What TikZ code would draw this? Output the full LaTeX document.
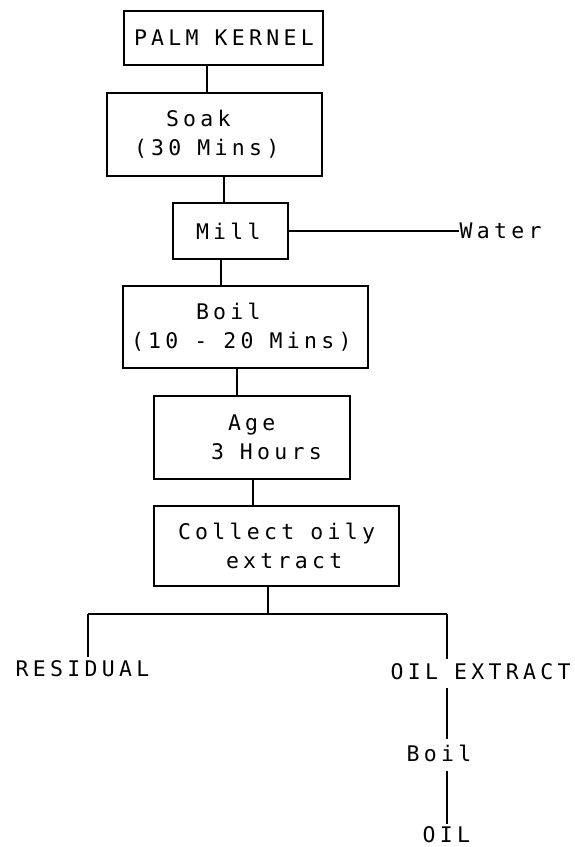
\documentclass[tikz,border=0pt]{standalone}
\usepackage{fontspec}
\newfontfamily\twfont{DejaVu Sans Mono}[LetterSpace=20]
\newcommand\twsp{\hspace*{16pt}}
\begin{document}
\begin{tikzpicture}[x=1pt,y=-1pt, line width=1.4pt,
  every node/.style={font={\twfont\fontsize{21.5pt}{29pt}\selectfont}},
  stepbox/.style={draw, line width=1.4pt, inner xsep=0pt, inner ysep=2pt, align=left},
  lbl/.style={inner sep=0pt, text height=15.5pt, text depth=0pt, anchor=west}]
\useasboundingbox (0,0) rectangle (575,847);
\node[stepbox, text width=199pt, minimum height=54pt] (pk) at (223.5,38) {\hspace*{10pt}PALM\twsp KERNEL};
\node[stepbox, text width=215pt, minimum height=83pt] (soak) at (214.5,134.5) {\hspace*{59pt}Soak\\\hspace*{27pt}(30\twsp Mins)};
\node[stepbox, text width=115pt, minimum height=56pt] (mill) at (230.5,231) {\hspace*{23pt}Mill};
\node[stepbox, text width=245pt, minimum height=82pt] (boil) at (245.5,327) {\hspace*{73pt}Boil\\\hspace*{8pt}(10\twsp -\twsp 20\twsp Mins)};
\node[stepbox, text width=196pt, minimum height=83pt] (age) at (252,437.5) {\hspace*{74pt}Age\\\hspace*{57pt}3\twsp Hours};
\node[stepbox, text width=245pt, minimum height=80pt] (coll) at (276.5,546) {\hspace*{24pt}Collect\twsp oily\\\hspace*{72pt}extract};
\node[lbl] (water) at (459,231) {Water};
\node[lbl] (res) at (15,669) {RESIDUAL};
\node[lbl] (oilx) at (390,672) {OIL\twsp EXTRACT};
\node[lbl] (boilb) at (406,754) {Boil};
\node[lbl] (oil) at (422,835) {OIL};
\draw (pk.south -| 207,0) -- (soak.north -| 207,0);
\draw (soak.south -| 224,0) -- (mill.north -| 224,0);
\draw (mill.south -| 221,0) -- (boil.north -| 221,0);
\draw (boil.south -| 237,0) -- (age.north -| 237,0);
\draw (age.south -| 253,0) -- (coll.north -| 253,0);
\draw (mill.east) -- (water.west);
\coordinate (j) at (268,614);
\coordinate (jl) at (88,614);
\coordinate (jr) at (447,614);
\draw (coll.south -| j) -- (j);
\draw (jl) -- (jr);
\draw[shorten >=3.5pt] (jl) -- (res.north -| jl);
\draw[shorten >=4.5pt] (jr) -- (oilx.north -| jr);
\draw[shorten <=7.5pt, shorten >=6.5pt] (oilx.south -| jr) -- (boilb.north -| jr);
\draw[shorten <=8.5pt, shorten >=2.5pt] (boilb.south -| jr) -- (oil.north -| jr);
\end{tikzpicture}
\end{document}
